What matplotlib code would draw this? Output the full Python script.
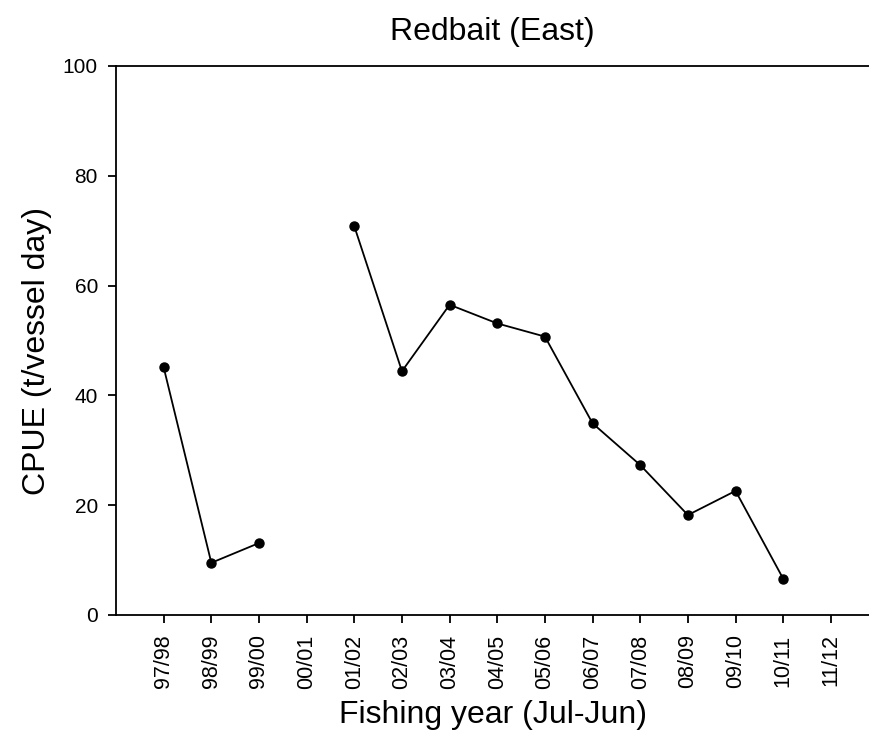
"""
CPUE for Redbait (East) by fishing year.
"""
import numpy as np
import matplotlib.pyplot as plt

years = ["97/98", "98/99", "99/00", "00/01", "01/02", "02/03", "03/04", "04/05",
         "05/06", "06/07", "07/08", "08/09", "09/10", "10/11", "11/12"]
cpue = [45.1, 9.5, 13.1, np.nan, 70.8, 44.4, 56.5, 53.1,
        50.7, 34.9, 27.3, 18.2, 22.6, 6.6, np.nan]


def main():
    plt.rcParams['font.family'] = ['Liberation Sans', 'DejaVu Sans']
    fig = plt.figure(figsize=(8.69, 7.38), dpi=100)
    ax = fig.add_axes([0.1335, 0.1667, 0.8665, 0.744])

    x = np.arange(len(years))
    ax.plot(x, cpue, color='black', lw=1.3, marker='o', ms=6.5)

    ax.set_xlim(-1, 14.8)
    ax.set_ylim(0, 100)
    ax.set_xticks(x)
    ax.set_xticklabels(years, rotation=90)
    ax.set_yticks(np.arange(0, 101, 20))
    ax.tick_params(axis='y', labelsize=15, length=6, width=1.3, pad=7)
    ax.tick_params(axis='x', labelsize=15.5, length=6, width=1.3, pad=8)
    for s in ['left', 'bottom', 'top']:
        ax.spines[s].set_linewidth(1.3)
    ax.spines['right'].set_visible(False)

    ax.set_title("Redbait (East)", fontsize=23, pad=19)
    ax.set_xlabel("Fishing year (Jul-Jun)", fontsize=23, labelpad=8)
    ax.set_ylabel("CPUE (t/vessel day)", fontsize=23)
    ax.yaxis.set_label_coords(-0.085, 0.48)

    fig.savefig("out.png", dpi=100)


if __name__ == "__main__":
    main()
